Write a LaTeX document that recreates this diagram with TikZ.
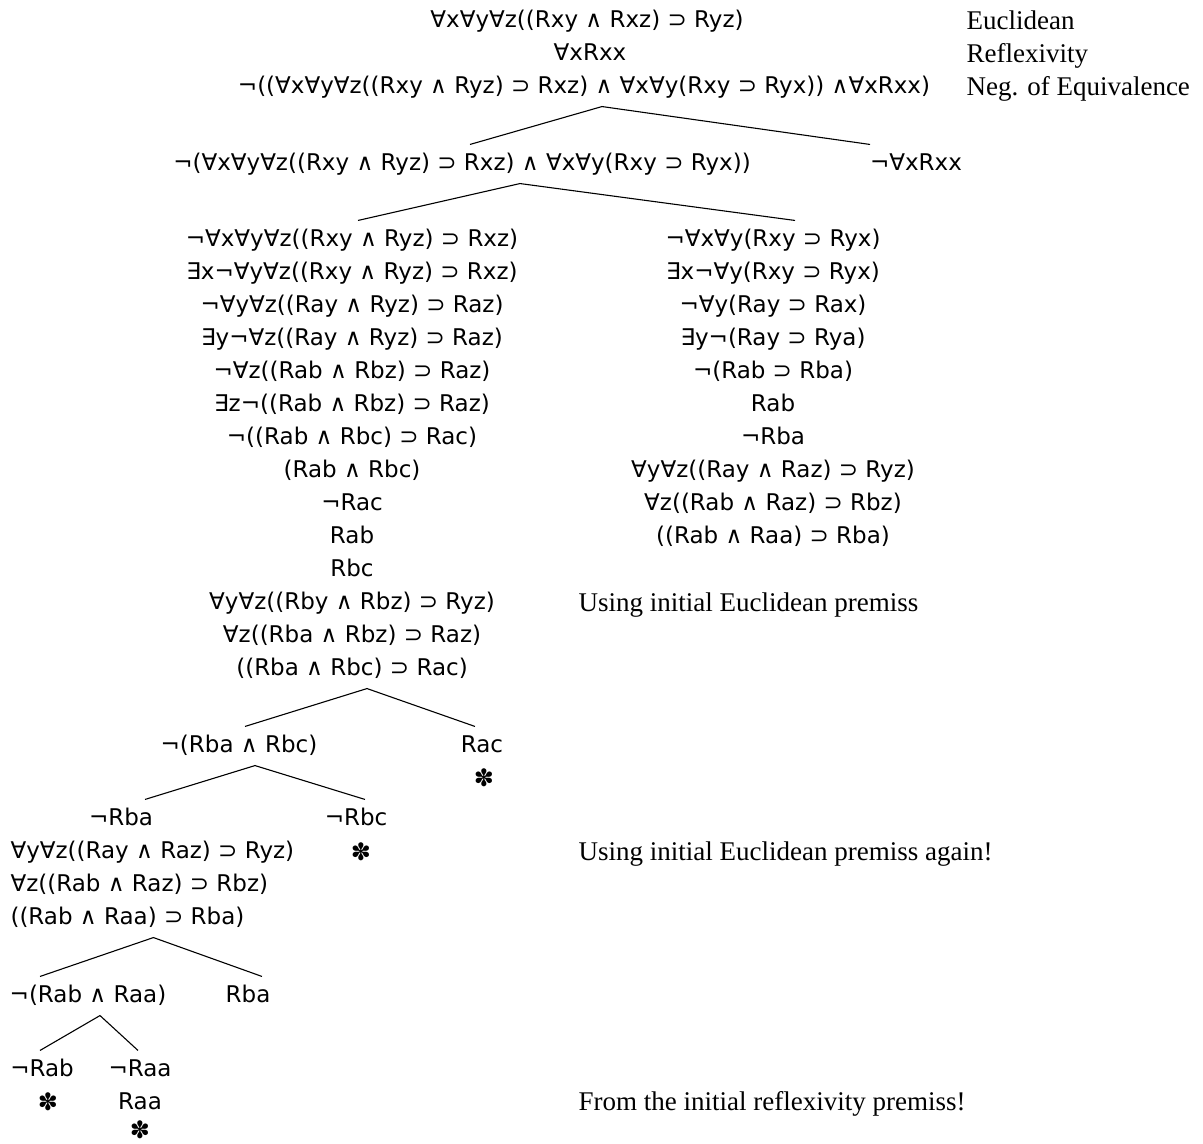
\documentclass[tikz,border=0pt]{standalone}
\usepackage{fontspec}
\setmainfont{Liberation Serif}
\newfontfamily\fmlfont{DejaVu Sans}

\begin{document}
\begin{tikzpicture}[x=1pt,y=-1pt,line width=1.1pt,
  fml/.style={font=\fmlfont\fontsize{23}{27}\selectfont, inner xsep=0pt, inner ysep=8pt, text height=17pt, text depth=5pt},
  lfml/.style={fml, anchor=west},
  note/.style={font=\fontsize{27}{32}\selectfont, anchor=west, inner sep=0pt, text height=18pt, text depth=6pt},
  shut/.style={font=\fmlfont\fontsize{24}{28}\selectfont, inner sep=0pt}]
\useasboundingbox (0,0) rectangle (1203,1144);
\node (prem1) at (587,21) [fml] {∀x∀y∀z((Rxy ∧ Rxz) ⊃ Ryz)};
\node (prem2) at (590,54) [fml] {∀xRxx};
\node (prem3) at (584,87) [fml] {¬((∀x∀y∀z((Rxy ∧ Ryz) ⊃ Rxz) ∧ ∀x∀y(Rxy ⊃ Ryx)) ∧∀xRxx)};
\node (note1) at (966,23) [note] {Euclidean};
\node (note2) at (966,56) [note] {Reflexivity};
\node (note3) at (966,89) [note] {Neg. of Equivalence};
\node (negconj) at (462,164) [fml] {¬(∀x∀y∀z((Rxy ∧ Ryz) ⊃ Rxz) ∧ ∀x∀y(Rxy ⊃ Ryx))};
\node (negrefl) at (916,164) [fml] {¬∀xRxx};
\draw ([xshift=8pt]negconj.north) -- ([xshift=18pt]prem3.south) -- ([xshift=-46pt]negrefl.north);
\node (l1) at (352,240) [fml] {¬∀x∀y∀z((Rxy ∧ Ryz) ⊃ Rxz)};
\node (l2) at (352,273) [fml] {∃x¬∀y∀z((Rxy ∧ Ryz) ⊃ Rxz)};
\node (l3) at (352,306) [fml] {¬∀y∀z((Ray ∧ Ryz) ⊃ Raz)};
\node (l4) at (352,339) [fml] {∃y¬∀z((Ray ∧ Ryz) ⊃ Raz)};
\node (l5) at (352,372) [fml] {¬∀z((Rab ∧ Rbz) ⊃ Raz)};
\node (l6) at (352,405) [fml] {∃z¬((Rab ∧ Rbz) ⊃ Raz)};
\node (l7) at (352,438) [fml] {¬((Rab ∧ Rbc) ⊃ Rac)};
\node (l8) at (352,471) [fml] {(Rab ∧ Rbc)};
\node (l9) at (352,504) [fml] {¬Rac};
\node (l10) at (352,537) [fml] {Rab};
\node (l11) at (352,570) [fml] {Rbc};
\node (l12) at (352,603) [fml] {∀y∀z((Rby ∧ Rbz) ⊃ Ryz)};
\node (l13) at (352,636) [fml] {∀z((Rba ∧ Rbz) ⊃ Raz)};
\node (l14) at (352,669) [fml] {((Rba ∧ Rbc) ⊃ Rac)};
\node (r1) at (773,240) [fml] {¬∀x∀y(Rxy ⊃ Ryx)};
\node (r2) at (773,273) [fml] {∃x¬∀y(Rxy ⊃ Ryx)};
\node (r3) at (773,306) [fml] {¬∀y(Ray ⊃ Rax)};
\node (r4) at (773,339) [fml] {∃y¬(Ray ⊃ Rya)};
\node (r5) at (773,372) [fml] {¬(Rab ⊃ Rba)};
\node (r6) at (773,405) [fml] {Rab};
\node (r7) at (773,438) [fml] {¬Rba};
\node (r8) at (773,471) [fml] {∀y∀z((Ray ∧ Raz) ⊃ Ryz)};
\node (r9) at (773,504) [fml] {∀z((Rab ∧ Raz) ⊃ Rbz)};
\node (r10) at (773,537) [fml] {((Rab ∧ Raa) ⊃ Rba)};
\draw ([xshift=6pt]l1.north) -- ([xshift=58pt]negconj.south) -- ([xshift=22pt]r1.north);
\node (note4) at (578,605) [note] {Using initial Euclidean premiss};
\node (nbb) at (239,746) [fml] {¬(Rba ∧ Rbc)};
\node (rac) at (482,746) [fml] {Rac};
\node (shut1) at (484,778) [shut] {✽};
\draw ([xshift=6pt]nbb.north) -- ([xshift=15pt]l14.south) -- ([xshift=-7pt]rac.north);
\node (nrba) at (121,819) [fml] {¬Rba};
\node (nrbc) at (356,819) [fml] {¬Rbc};
\node (shut2) at (361,852) [shut] {✽};
\draw ([xshift=24pt]nrba.north) -- ([xshift=16pt]nbb.south) -- ([xshift=9pt]nrbc.north);
\node (ea1) at (10,852) [lfml] {∀y∀z((Ray ∧ Raz) ⊃ Ryz)};
\node (ea2) at (10,885) [lfml] {∀z((Rab ∧ Raz) ⊃ Rbz)};
\node (ea3) at (10,918) [lfml] {((Rab ∧ Raa) ⊃ Rba)};
\node (note5) at (578,854) [note] {Using initial Euclidean premiss again!};
\node (nab) at (88,996) [fml] {¬(Rab ∧ Raa)};
\node (rba) at (248,996) [fml] {Rba};
\draw ([xshift=-48pt]nab.north) -- ([xshift=26pt]ea3.south) -- ([xshift=14pt]rba.north);
\node (nrab) at (42,1070) [fml] {¬Rab};
\node (nraa) at (140,1070) [fml] {¬Raa};
\draw ([xshift=-2pt]nrab.north) -- ([xshift=12pt]nab.south) -- ([xshift=-2pt]nraa.north);
\node (shut3) at (48,1102) [shut] {✽};
\node (raa) at (140,1103) [fml] {Raa};
\node (shut4) at (140,1130) [shut] {✽};
\node (note6) at (578,1104) [note] {From the initial reflexivity premiss!};
\end{tikzpicture}
\end{document}
